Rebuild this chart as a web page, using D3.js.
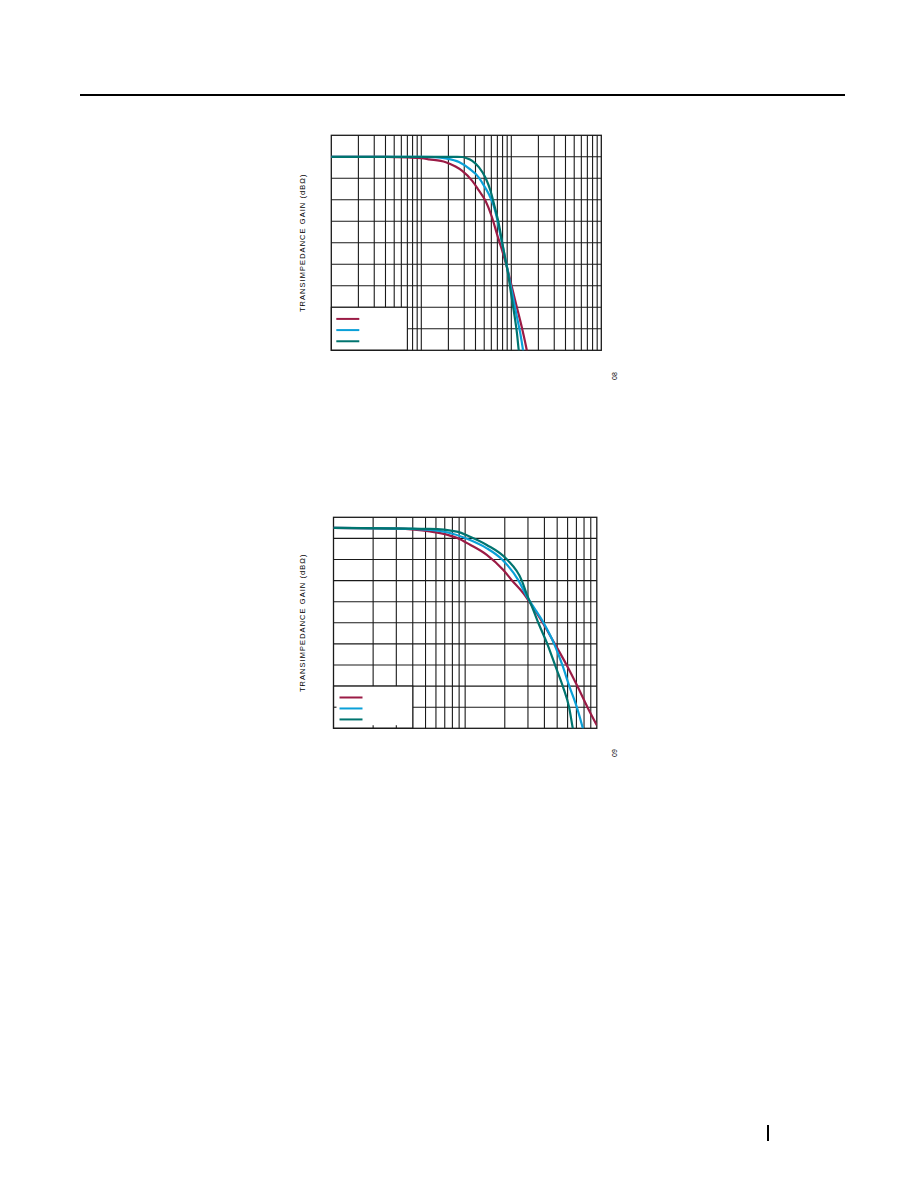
<!DOCTYPE html>
<html>
<head>
<meta charset="utf-8">
<script src="https://cdn.jsdelivr.net/npm/d3@7/dist/d3.min.js"></script>
<style>
  html, body { margin: 0; padding: 0; background: #fff; }
  svg { display: block; }
</style>
</head>
<body>
<svg id="page" width="918" height="1188"></svg>
<script>
// ---------------- DATA ----------------
const yTitle = "TRANSIMPEDANCE GAIN (dBΩ)";
const seriesColors = ["#9b1b45", "#0aa0d8", "#00746f"];
const seriesNames = ["", "", ""];   // legend labels are not printed in the reference

// Chart 1 (3 decades, 3 dB / division)
const top_freqDomain = [1, 1000];
const top_gainTicks = [3, 0, -3, -6, -9, -12, -15, -18, -21, -24, -27];
const top_red = [[1,0],[4,-0.02],[7,-0.1],[10,-0.2],[12.2,-0.35],[18.7,-0.75],[24,-1.35],[28.5,-1.95],[36.8,-3.35],[43.6,-4.7],[51.5,-6.1],[60.9,-8.4],[69.4,-10.8],[78.8,-13.0],[89.4,-15.4],[101.7,-18.2],[115.3,-21.0],[130.9,-23.8],[148.6,-27],[156,-28.5]];
const top_blue = [[1,0],[10,0],[14,-0.05],[18.7,-0.23],[26.2,-0.74],[33.8,-1.63],[43.6,-2.9],[47.4,-3.6],[56.2,-5.2],[63.8,-6.84],[69.4,-8.6],[75.6,-10.9],[82.3,-13.1],[89.4,-15.3],[97.4,-17.7],[106,-20.0],[115.3,-22.3],[125.7,-24.6],[134.3,-26.8],[140,-28.5]];
const top_teal = [[1,0],[25,0],[28.5,-0.03],[32,-0.2],[36.8,-0.56],[43.6,-1.45],[51.5,-2.9],[58.6,-4.7],[65.2,-6.9],[72.2,-9.2],[78.8,-11.8],[85.8,-14.3],[90,-15.6],[93.3,-16.8],[101.7,-19.9],[108.7,-22.2],[115.3,-24.5],[120.5,-26.8],[125,-28.5]];

// Chart 2 (2 decades, 1 dB / division)
const bot_freqDomain = [1, 100];
const bot_gainTicks = [1, 0, -1, -2, -3, -4, -5, -6, -7, -8, -9];
const bot_red = [[1,0.5],[3,0.46],[5.4,0.33],[7.25,0.18],[8.64,0.03],[10.9,-0.3],[14.6,-0.78],[19.5,-1.5],[22.6,-1.98],[27.7,-2.6],[31.1,-3.05],[38.9,-4.01],[48.2,-5.02],[59.1,-6.01],[71.3,-7.01],[84.9,-8.0],[100,-8.85]];
const bot_blue = [[1,0.5],[4,0.45],[7.25,0.29],[10.9,-0.08],[14.6,-0.47],[19,-0.99],[25.4,-1.99],[29.4,-2.75],[33.5,-3.3],[39.8,-4.05],[47.6,-5.02],[54.8,-6.01],[61.9,-7.01],[70.5,-8.0],[78.3,-9.0],[82,-9.5]];
const bot_teal = [[1,0.5],[5.4,0.45],[8.64,0.32],[10.9,0.08],[14.6,-0.31],[20.7,-0.99],[26.9,-1.99],[29.4,-2.65],[32.5,-3.3],[36.0,-4.01],[42.2,-5.02],[48.2,-6.01],[55.2,-7.01],[61.6,-8.0],[65.7,-9.0],[68,-9.5]];

const figNumbers = ["08", "09"];

// ---------------- DRAW ----------------
const svg = d3.select("#page");
const gridColor = "#1a1a1a";

// page header rule and footer bar
svg.append("line").attr("x1", 80).attr("x2", 845).attr("y1", 95).attr("y2", 95)
  .attr("stroke", "#000").attr("stroke-width", 2);
svg.append("line").attr("x1", 768).attr("x2", 768).attr("y1", 1125).attr("y2", 1141)
  .attr("stroke", "#000").attr("stroke-width", 2);

function drawChart(cfg) {
  const g = svg.append("g");
  const x = d3.scaleLog().domain(cfg.freqDomain).range([cfg.left, cfg.right]);
  const y = d3.scaleLinear().domain([cfg.gainTicks[0], cfg.gainTicks[cfg.gainTicks.length - 1]])
    .range([cfg.top, cfg.bottom]);

  const clipId = "clip" + cfg.id;
  svg.append("clipPath").attr("id", clipId).append("rect")
    .attr("x", cfg.left).attr("y", cfg.top)
    .attr("width", cfg.right - cfg.left).attr("height", cfg.bottom - cfg.top);

  // vertical grid (log)
  const xt = x.ticks().filter(v => v > cfg.freqDomain[0] && v < cfg.freqDomain[1]);
  g.append("g").selectAll("line").data(xt).join("line")
    .attr("x1", d => x(d)).attr("x2", d => x(d))
    .attr("y1", cfg.top).attr("y2", cfg.bottom)
    .attr("stroke", gridColor).attr("stroke-width", 1.1);
  // horizontal grid
  const yt = cfg.gainTicks.slice(1, -1);
  g.append("g").selectAll("line").data(yt).join("line")
    .attr("x1", cfg.left).attr("x2", cfg.right)
    .attr("y1", d => y(d)).attr("y2", d => y(d))
    .attr("stroke", gridColor).attr("stroke-width", 1.1);

  // legend box (white, covers grid)
  const lx1 = cfg.left, lx2 = x(cfg.legendRightFreq);
  const ly1 = y(cfg.legendTopGain), ly2 = cfg.bottom;
  g.append("rect").attr("x", lx1).attr("y", ly1).attr("width", lx2 - lx1).attr("height", ly2 - ly1)
    .attr("fill", "#fff").attr("stroke", gridColor).attr("stroke-width", 1.1);

  if (cfg.innerTicks) {
    const tl = 3;
    g.append("g").selectAll("line").data(xt.filter(v => x(v) < lx2)).join("line")
      .attr("x1", d => x(d)).attr("x2", d => x(d))
      .attr("y1", cfg.bottom).attr("y2", cfg.bottom - tl)
      .attr("stroke", gridColor).attr("stroke-width", 1.1);
    g.append("g").selectAll("line").data(yt.filter(v => y(v) > ly1)).join("line")
      .attr("x1", cfg.left).attr("x2", cfg.left + tl)
      .attr("y1", d => y(d)).attr("y2", d => y(d))
      .attr("stroke", gridColor).attr("stroke-width", 1.1);
  }

  // frame
  g.append("rect").attr("x", cfg.left).attr("y", cfg.top)
    .attr("width", cfg.right - cfg.left).attr("height", cfg.bottom - cfg.top)
    .attr("fill", "none").attr("stroke", gridColor).attr("stroke-width", 1.3);

  // curves
  const line = d3.line().x(d => x(d[0])).y(d => y(d[1])).curve(d3.curveMonotoneX);
  const cg = g.append("g").attr("clip-path", `url(#${clipId})`);
  cfg.series.forEach((s, i) => {
    cg.append("path").datum(s).attr("d", line)
      .attr("fill", "none").attr("stroke", seriesColors[i]).attr("stroke-width", 2.2);
  });

  // legend swatches
  const legY = [0, 1, 2].map(i => ly1 + (ly2 - ly1) * (0.27 + i * 0.26));
  seriesColors.forEach((c, i) => {
    g.append("line").attr("x1", cfg.left + cfg.swatchOffset).attr("x2", cfg.left + cfg.swatchOffset + 23)
      .attr("y1", legY[i]).attr("y2", legY[i]).attr("stroke", c).attr("stroke-width", 2);
    g.append("text").attr("x", cfg.left + cfg.swatchOffset + 27).attr("y", legY[i] + 2.5)
      .attr("font-family", "Liberation Sans, Arial, sans-serif").attr("font-size", 7)
      .text(seriesNames[i]);
  });

  // y title
  g.append("text")
    .attr("transform", `translate(${cfg.titleX},${(cfg.top + cfg.bottom) / 2}) rotate(-90)`)
    .attr("text-anchor", "middle").attr("dominant-baseline", "middle")
    .attr("font-family", "Liberation Sans, Arial, sans-serif").attr("font-size", 7.5)
    .attr("letter-spacing", 1.05).attr("fill", "#000")
    .text(yTitle);

  // figure number
  g.append("text")
    .attr("transform", `translate(${cfg.figX},${cfg.figY}) rotate(-90)`)
    .attr("text-anchor", "middle").attr("dominant-baseline", "middle")
    .attr("font-family", "Liberation Sans, Arial, sans-serif").attr("font-size", 7)
    .attr("fill", "#000").text(cfg.fig);
}

drawChart({
  id: 1, left: 331.3, right: 601.3, top: 135.3, bottom: 350.3,
  freqDomain: top_freqDomain, gainTicks: top_gainTicks,
  series: [top_red, top_blue, top_teal],
  legendRightFreq: 7, legendTopGain: -21, innerTicks: false, swatchOffset: 5,
  titleX: 303, figX: 615, figY: 376, fig: figNumbers[0]
});

drawChart({
  id: 2, left: 333.5, right: 596.8, top: 517.3, bottom: 728.3,
  freqDomain: bot_freqDomain, gainTicks: bot_gainTicks,
  series: [bot_red, bot_blue, bot_teal],
  legendRightFreq: 4, legendTopGain: -7, innerTicks: true, swatchOffset: 6,
  titleX: 303, figX: 615, figY: 753, fig: figNumbers[1]
});
</script>
</body>
</html>
